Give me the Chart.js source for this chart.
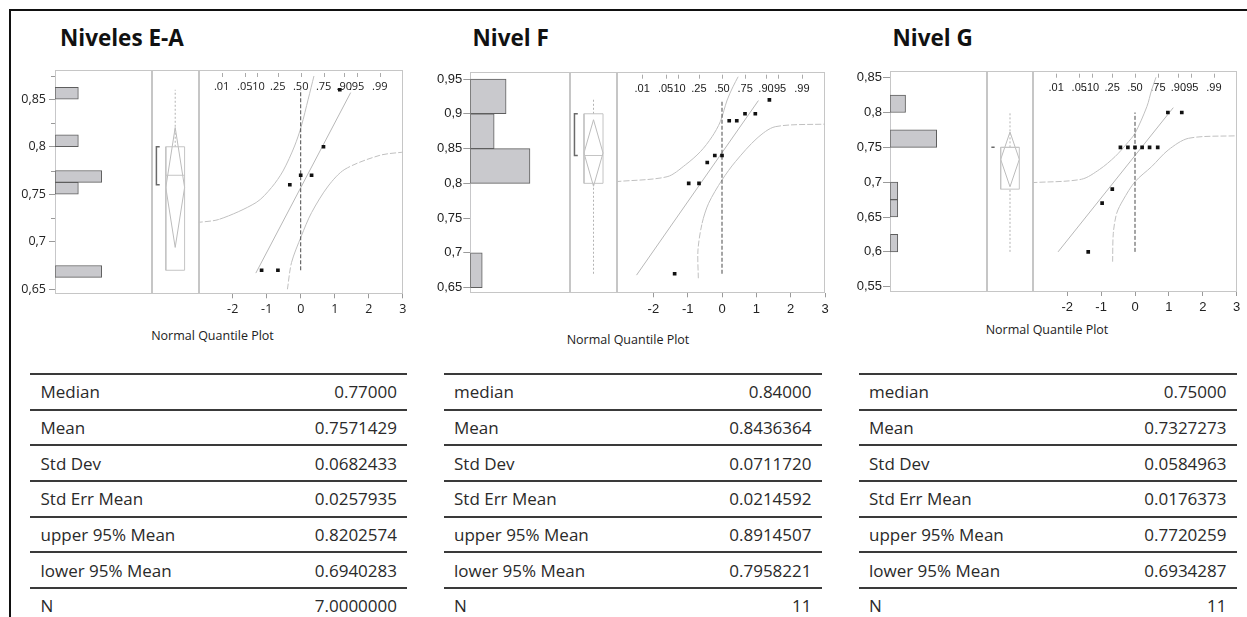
<!DOCTYPE html>
<html lang="es">
<head>
<meta charset="utf-8">
<title>Distribuciones por nivel</title>
<script src="https://cdn.jsdelivr.net/npm/chart.js@4.4.1/dist/chart.umd.min.js"></script>
<style>
  html, body { margin: 0; padding: 0; background: #fff; }
  body { position: relative; width: 1247px; height: 617px; overflow: hidden; font-family: 'Open Sans', sans-serif; color: #222; }
  .frame { position: absolute; left: 9px; top: 9px; width: 1260px; height: 640px; border-top: 2px solid #111; border-left: 2px solid #111; }
  canvas { position: absolute; }
  .title { position: absolute; top: 26.7px; font-size: 22.5px; line-height: 22.5px; font-weight: 700; color: #111; white-space: nowrap; }
  .qlabel { position: absolute; font-size: 12.5px; line-height: 14px; color: #222; white-space: nowrap; transform: translateX(-50%); }
  .row { position: absolute; box-sizing: border-box; border-top: 2px solid #3a3a3a; display: flex; justify-content: space-between; align-items: center; padding: 0 10px 0 10.5px; font-size: 17px; color: #2a2a2a; white-space: nowrap; }
</style>
</head>
<body>
<div class="frame"></div>
<div class="title" style="left:60px">Niveles E-A</div>
<div class="title" style="left:472.5px">Nivel F</div>
<div class="title" style="left:892.5px">Nivel G</div>
<div class="qlabel" style="left:212.5px;top:329px">Normal Quantile Plot</div>
<div class="qlabel" style="left:628px;top:333px">Normal Quantile Plot</div>
<div class="qlabel" style="left:1047px;top:323px">Normal Quantile Plot</div>
<script>
// ---------- shared axis content ----------
const quantileTicks = [-2, -1, 0, 1, 2, 3];
const quantileTickLabels = ['-2', '-1', '0', '1', '2', '3'];
const probLabels = ['.01', '.05', '.10', '.25', '.50', '.75', '.90', '.95', '.99'];
const probZ = [-2.326, -1.645, -1.282, -0.674, 0, 0.674, 1.282, 1.645, 2.326];
const statNamesEA = ['Median', 'Mean', 'Std Dev', 'Std Err Mean', 'upper 95% Mean', 'lower 95% Mean', 'N'];
const statNamesFG = ['median', 'Mean', 'Std Dev', 'Std Err Mean', 'upper 95% Mean', 'lower 95% Mean', 'N'];

// ---------- Niveles E-A ----------
const eaYTicks = [0.65, 0.7, 0.75, 0.8, 0.85];
const eaYTickLabels = ['0,65', '0,7', '0,75', '0,8', '0,85'];
const eaYMinorTicks = [0.725, 0.775, 0.825, 0.875];
const eaBinWidth = 0.0125;
const eaBinStarts = [0.6625, 0.675, 0.6875, 0.7, 0.7125, 0.725, 0.7375, 0.75, 0.7625, 0.775, 0.7875, 0.8, 0.8125, 0.825, 0.8375, 0.85];
const eaBinCounts = [2, 0, 0, 0, 0, 0, 0, 1, 2, 0, 0, 1, 0, 0, 0, 1];
const eaValues = [0.67, 0.67, 0.76, 0.77, 0.77, 0.80, 0.86];
const eaNormalQuantiles = [-1.15, -0.67, -0.32, 0, 0.32, 0.67, 1.15];
const eaFiveNumber = [0.67, 0.67, 0.77, 0.80, 0.86];   // min, q1, median, q3, max
const eaShortestHalf = [0.76, 0.80];
const eaStats = [0.77, 0.7571429, 0.0682433, 0.0257935, 0.8202574, 0.6940283, 7];
const eaStatDigits = [5, 7, 7, 7, 7, 7, 7];
const eaFitZ = [-1.32, 1.47];
const eaFitY = [0.667, 0.857];
const eaUpperBandZ = [-3.05, -2.39, -1.31, -0.86, -0.52, -0.18, 0.02, 0.22, 0.39];
const eaUpperBandY = [0.7202, 0.7237, 0.7413, 0.757, 0.7745, 0.8008, 0.8219, 0.85, 0.8745];
const eaLowerBandZ = [-0.39, -0.27, 0.02, 0.32, 0.81, 1.30, 2.33, 3.05];
const eaLowerBandY = [0.65, 0.6781, 0.7061, 0.7307, 0.7587, 0.7763, 0.791, 0.7945];

// ---------- Nivel F ----------
const fYTicks = [0.65, 0.7, 0.75, 0.8, 0.85, 0.9, 0.95];
const fYTickLabels = ['0,65', '0,7', '0,75', '0,8', '0,85', '0,9', '0,95'];
const fBinWidth = 0.05;
const fBinStarts = [0.65, 0.7, 0.75, 0.8, 0.85, 0.9];
const fBinCounts = [1, 0, 0, 5, 2, 3];
const fValues = [0.67, 0.80, 0.80, 0.83, 0.84, 0.84, 0.89, 0.89, 0.90, 0.90, 0.92];
const fNormalQuantiles = [-1.38, -0.97, -0.67, -0.43, -0.21, 0, 0.21, 0.43, 0.67, 0.97, 1.38];
const fFiveNumber = [0.67, 0.80, 0.84, 0.90, 0.92];
const fShortestHalf = [0.84, 0.90];
const fStats = [0.84, 0.8436364, 0.0711720, 0.0214592, 0.8914507, 0.7958221, 11];
const fStatDigits = [5, 7, 7, 7, 7, 7, 0];
const fFitZ = [-2.49, 1.06];
const fFitY = [0.668, 0.919];
const fUpperBandZ = [-3.1, -1.60, -1.07, -0.63, -0.29, -0.05, 0.15, 0.32, 0.47];
const fUpperBandY = [0.8024, 0.8095, 0.8264, 0.8455, 0.867, 0.8886, 0.9198, 0.9389, 0.9533];
const fLowerBandZ = [-0.69, -0.70, -0.58, -0.39, 0, 0.39, 1.02, 1.55, 3.1];
const fLowerBandY = [0.6635, 0.7042, 0.7426, 0.7713, 0.8048, 0.8311, 0.8648, 0.8814, 0.8853];

// ---------- Nivel G ----------
const gYTicks = [0.55, 0.6, 0.65, 0.7, 0.75, 0.8, 0.85];
const gYTickLabels = ['0,55', '0,6', '0,65', '0,7', '0,75', '0,8', '0,85'];
const gBinWidth = 0.025;
const gBinStarts = [0.6, 0.625, 0.65, 0.675, 0.7, 0.725, 0.75, 0.775, 0.8];
const gBinCounts = [1, 0, 1, 1, 0, 0, 6, 0, 2];
const gValues = [0.60, 0.67, 0.69, 0.75, 0.75, 0.75, 0.75, 0.75, 0.75, 0.80, 0.80];
const gNormalQuantiles = [-1.38, -0.97, -0.67, -0.43, -0.21, 0, 0.21, 0.43, 0.67, 0.97, 1.38];
const gFiveNumber = [0.60, 0.69, 0.75, 0.75, 0.80];
const gShortestHalf = [0.75, 0.75];
const gStats = [0.75, 0.7327273, 0.0584963, 0.0176373, 0.7720259, 0.6934287, 11];
const gStatDigits = [5, 7, 7, 7, 7, 7, 0];
const gFitZ = [-2.27, 1.13];
const gFitY = [0.600, 0.807];
const gUpperBandZ = [-3.05, -1.58, -1.04, -0.59, -0.25, 0, 0.35, 0.49, 0.62];
const gUpperBandY = [0.6993, 0.7042, 0.7185, 0.7366, 0.7548, 0.7702, 0.8084, 0.8323, 0.8506];
const gLowerBandZ = [-0.66, -0.64, -0.54, -0.35, 0, 0.49, 0.98, 1.58, 3.05];
const gLowerBandY = [0.5859, 0.6267, 0.6554, 0.6745, 0.7007, 0.7223, 0.7462, 0.763, 0.7667];

// ---------- drawing ----------
Chart.defaults.font.family = "'Liberation Sans', Arial, sans-serif";
Chart.defaults.color = '#222';

// Panel frames, minor ticks and the probability scale along the top of the quantile plot
const panelDecor = {
  id: 'panelDecor',
  beforeDatasetsDraw(chart, args, opts) {
    const ctx = chart.ctx, a = chart.chartArea;
    ctx.save();
    ctx.lineWidth = 1;
    ctx.strokeStyle = '#c6c6c6';
    const l = Math.round(a.left) + 0.5, r = Math.round(a.right) - 0.5;
    const t = Math.round(a.top) + 0.5, b = Math.round(a.bottom) - 0.5;
    ctx.strokeRect(l, t, r - l, b - t);
    if (opts.minorTicks) {
      const ys = chart.scales.y;
      ctx.strokeStyle = '#9a9a9a';
      opts.minorTicks.forEach(v => {
        const y = Math.round(ys.getPixelForValue(v)) + 0.5;
        ctx.beginPath(); ctx.moveTo(a.left - 4, y); ctx.lineTo(a.left, y); ctx.stroke();
      });
    }
    if (opts.probLabels) {
      const xs = chart.scales.x;
      ctx.font = opts.probFont;
      ctx.fillStyle = '#1a1a1a';
      ctx.textAlign = 'center';
      ctx.textBaseline = 'middle';
      opts.probLabels.forEach((lab, i) => {
        const x = xs.getPixelForValue(opts.probZ[i]);
        const xr = Math.round(x) + 0.5;
        ctx.strokeStyle = '#aaaaaa';
        ctx.beginPath(); ctx.moveTo(xr, a.top + 3); ctx.lineTo(xr, a.top + 7); ctx.stroke();
        ctx.fillText(lab, x, a.top + 17);
      });
    }
    ctx.restore();
  }
};
Chart.register(panelDecor);

function zip(xs, ys) { return xs.map((x, i) => ({ x: x, y: ys[i] })); }

function lineSet(points, color, width, dash) {
  return { data: points, showLine: true, borderColor: color, borderWidth: width, borderDash: dash || [],
           pointRadius: 0, pointHoverRadius: 0, fill: false, tension: 0 };
}

// flat and near-vertical stretches of the confidence bands are drawn dashed
const bandDash = ctx => {
  const dx = Math.abs(ctx.p1.x - ctx.p0.x), dy = Math.abs(ctx.p1.y - ctx.p0.y);
  return (dy < 0.4 * dx || dx < 0.2 * dy) ? [6, 2] : undefined;
};

function makeCanvas(rect) {
  const c = document.createElement('canvas');
  c.width = rect.w; c.height = rect.h;
  c.style.left = rect.x + 'px'; c.style.top = rect.y + 'px';
  c.style.width = rect.w + 'px'; c.style.height = rect.h + 'px';
  document.body.appendChild(c);
  return c.getContext('2d');
}

function padding(cv, l, r, t, b, axisLeft, axisBottom) {
  return { left: l - cv.x - axisLeft, right: cv.x + cv.w - r, top: t - cv.y, bottom: cv.y + cv.h - b - axisBottom };
}

const Y_AXIS_W = 45, X_AXIS_H = 25;

function drawPanel(p) {
  const common = { responsive: false, animation: false, events: [] };
  const yRange = { min: p.yMin, max: p.yMax };

  // histogram
  new Chart(makeCanvas(p.canvas), {
    type: 'bar',
    data: { datasets: [{
      data: p.binStarts.map((s, i) => ({ x: p.binCounts[i], y: s + p.binWidth / 2 })),
      backgroundColor: '#c9c9cd', borderColor: '#5e5e5e',
      borderWidth: c => (c.raw && c.raw.x > 0 ? 1 : 0),
      borderSkipped: false, barPercentage: 1, categoryPercentage: 1
    }] },
    options: Object.assign({}, common, {
      indexAxis: 'y',
      layout: { padding: padding(p.canvas, p.hist[0], p.hist[1], p.top, p.bottom, Y_AXIS_W, 0) },
      plugins: { legend: { display: false }, tooltip: { enabled: false },
                 panelDecor: { minorTicks: p.minorTicks || null } },
      scales: {
        x: { type: 'linear', display: false, min: 0, max: p.histMax },
        y: Object.assign({ type: 'linear', position: 'left', offset: false }, yRange, {
          afterBuildTicks: s => { s.ticks = p.yTicks.map(v => ({ value: v })); },
          afterFit: s => { s.width = Y_AXIS_W; },
          grid: { drawOnChartArea: false, offset: false, tickLength: p.yTickLen, color: '#9a9a9a' },
          border: { display: false },
          ticks: { autoSkip: false, padding: p.yTickPad, color: '#222', font: p.tickFont,
                   callback: (v, i) => p.yTickLabels[i] }
        })
      }
    })
  });

  // box plot with mean diamond and shortest-half bracket
  const [mn, q1, md, q3, mx] = p.five;
  const mean = p.stats[1], hi = p.stats[4], lo = p.stats[5];
  new Chart(makeCanvas(p.canvas), {
    type: 'scatter',
    data: { datasets: [
      lineSet([{ x: 0.3, y: q1 }, { x: 0.7, y: q1 }, { x: 0.7, y: q3 }, { x: 0.3, y: q3 }, { x: 0.3, y: q1 }], '#c4c4c4', 1),
      lineSet([{ x: 0.3, y: md }, { x: 0.7, y: md }], '#c4c4c4', 1),
      lineSet([{ x: 0.5, y: lo }, { x: 0.7, y: mean }, { x: 0.5, y: hi }, { x: 0.3, y: mean }, { x: 0.5, y: lo }], '#bcbcbc', 1),
      lineSet([{ x: 0.5, y: q3 }, { x: 0.5, y: mx }], '#b3b3b3', 1, [2, 2]),
      lineSet([{ x: 0.5, y: mn }, { x: 0.5, y: q1 }], '#b3b3b3', 1, [2, 2]),
      lineSet([{ x: 0.17, y: p.shortest[0] }, { x: 0.1, y: p.shortest[0] }, { x: 0.1, y: p.shortest[1] }, { x: 0.17, y: p.shortest[1] }], '#6a6a6a', 1.5)
    ] },
    options: Object.assign({}, common, {
      layout: { padding: padding(p.canvas, p.box[0], p.box[1], p.top, p.bottom, 0, 0) },
      plugins: { legend: { display: false }, tooltip: { enabled: false }, panelDecor: {} },
      scales: {
        x: { type: 'linear', display: false, min: 0, max: 1 },
        y: Object.assign({ type: 'linear', display: false }, yRange)
      }
    })
  });

  // normal quantile plot
  new Chart(makeCanvas(p.canvas), {
    type: 'scatter',
    data: { datasets: [
      { data: zip(p.quantiles, p.values), pointStyle: 'rect', pointRadius: 2.6, pointHoverRadius: 2.6,
        backgroundColor: '#111', borderColor: '#111', borderWidth: 0, showLine: false },
      lineSet([{ x: 0, y: mn }, { x: 0, y: mx }], '#4a4a4a', 1, [4, 2]),
      lineSet(zip(p.fitZ, p.fitY), '#b8b8b8', 1),
      Object.assign(lineSet(zip(p.upperZ, p.upperY), '#c0c0c0', 1), { tension: 0.3, segment: { borderDash: bandDash } }),
      Object.assign(lineSet(zip(p.lowerZ, p.lowerY), '#c0c0c0', 1), { tension: 0.3, segment: { borderDash: bandDash } })
    ] },
    options: Object.assign({}, common, {
      layout: { padding: padding(p.canvas, p.qq[0], p.qq[1], p.top, p.bottom, 0, X_AXIS_H) },
      plugins: { legend: { display: false }, tooltip: { enabled: false },
                 panelDecor: { probLabels: probLabels, probZ: probZ, probFont: p.probFont } },
      scales: {
        x: { type: 'linear', min: p.zMin, max: 3,
             afterBuildTicks: s => { s.ticks = quantileTicks.map(v => ({ value: v })); },
             afterFit: s => { s.height = X_AXIS_H; },
             grid: { drawOnChartArea: false, tickLength: 4, color: '#9a9a9a' },
             border: { display: false },
             ticks: { autoSkip: false, maxRotation: 0, padding: 4, color: '#222', font: p.tickFont,
                      callback: (v, i) => quantileTickLabels[i] } },
        y: Object.assign({ type: 'linear', display: false }, yRange)
      }
    })
  });

  // summary table
  p.statNames.forEach((name, i) => {
    const row = document.createElement('div');
    row.className = 'row';
    row.style.left = p.table[0] + 'px';
    row.style.width = p.table[1] + 'px';
    row.style.top = (373 + i * 35.67) + 'px';
    row.style.height = '35.67px';
    const a = document.createElement('span'); a.textContent = name;
    const b = document.createElement('span'); b.textContent = p.stats[i].toFixed(p.statDigits[i]);
    row.appendChild(a); row.appendChild(b);
    document.body.appendChild(row);
  });
}

const softFont = { family: "'Open Sans', sans-serif", size: 12.5 };
const plainFont = { family: "'Liberation Sans', Arial, sans-serif", size: 13 };

drawPanel({
  canvas: { x: 10, y: 55, w: 410, h: 275 }, top: 70, bottom: 294.3,
  hist: [55, 151.7], box: [151.7, 198.7], qq: [198.7, 402.7], zMin: -3, table: [30, 377],
  yMin: 0.6447, yMax: 0.8808, yTicks: eaYTicks, yTickLabels: eaYTickLabels, minorTicks: eaYMinorTicks,
  yTickLen: 6, yTickPad: 3, tickFont: softFont, probFont: "11px 'Open Sans', sans-serif",
  binWidth: eaBinWidth, binStarts: eaBinStarts, binCounts: eaBinCounts, histMax: 4.14,
  values: eaValues, quantiles: eaNormalQuantiles, five: eaFiveNumber, shortest: eaShortestHalf,
  stats: eaStats, statDigits: eaStatDigits, statNames: statNamesEA,
  fitZ: eaFitZ, fitY: eaFitY, upperZ: eaUpperBandZ, upperY: eaUpperBandY, lowerZ: eaLowerBandZ, lowerY: eaLowerBandY
});

drawPanel({
  canvas: { x: 420, y: 55, w: 420, h: 275 }, top: 71.7, bottom: 293.3,
  hist: [470.3, 569.7], box: [569.7, 617.3], qq: [617.3, 825], zMin: -3.05, table: [443.5, 378],
  yMin: 0.6419, yMax: 0.9605, yTicks: fYTicks, yTickLabels: fYTickLabels,
  yTickLen: 7, yTickPad: 1, tickFont: plainFont, probFont: "11px 'Liberation Sans', Arial, sans-serif",
  binWidth: fBinWidth, binStarts: fBinStarts, binCounts: fBinCounts, histMax: 8.33,
  values: fValues, quantiles: fNormalQuantiles, five: fFiveNumber, shortest: fShortestHalf,
  stats: fStats, statDigits: fStatDigits, statNames: statNamesFG,
  fitZ: fFitZ, fitY: fFitY, upperZ: fUpperBandZ, upperY: fUpperBandY, lowerZ: fLowerBandZ, lowerY: fLowerBandY
});

drawPanel({
  canvas: { x: 840, y: 55, w: 407, h: 275 }, top: 70.7, bottom: 292,
  hist: [890, 986.7], box: [986.7, 1033.3], qq: [1033.3, 1236.7], zMin: -3, table: [858.5, 378],
  yMin: 0.5424, yMax: 0.86, yTicks: gYTicks, yTickLabels: gYTickLabels,
  yTickLen: 7, yTickPad: 1, tickFont: plainFont, probFont: "11px 'Liberation Sans', Arial, sans-serif",
  binWidth: gBinWidth, binStarts: gBinStarts, binCounts: gBinCounts, histMax: 12.43,
  values: gValues, quantiles: gNormalQuantiles, five: gFiveNumber, shortest: gShortestHalf,
  stats: gStats, statDigits: gStatDigits, statNames: statNamesFG,
  fitZ: gFitZ, fitY: gFitY, upperZ: gUpperBandZ, upperY: gUpperBandY, lowerZ: gLowerBandZ, lowerY: gLowerBandY
});
</script>
</body>
</html>
